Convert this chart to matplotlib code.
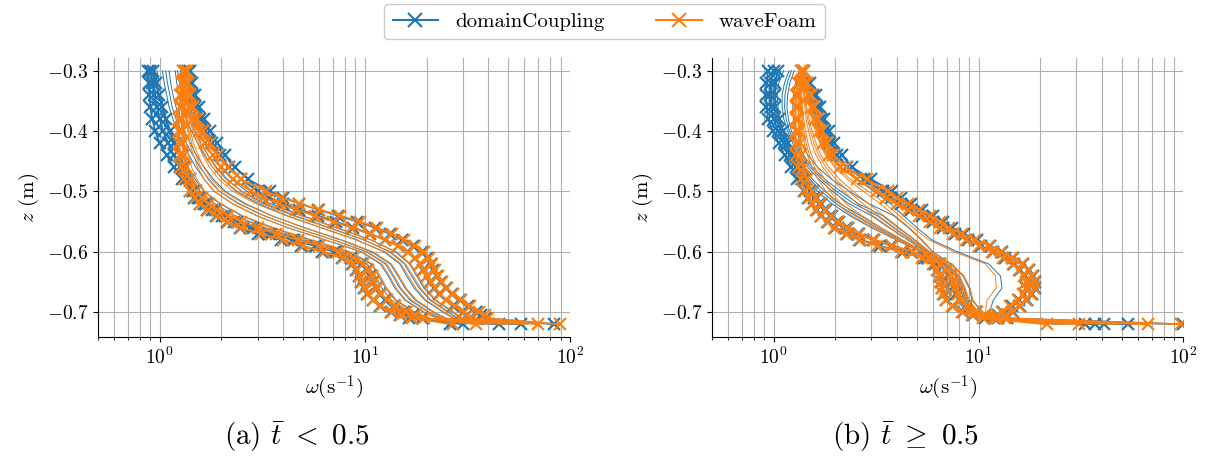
import matplotlib
matplotlib.use("Agg")
import matplotlib.pyplot as plt
from matplotlib.lines import Line2D

# depth levels (m): dense grid for the marked profiles, coarser one for the thin ones
ZM = [-0.30, -0.32, -0.34, -0.36, -0.38, -0.40, -0.42, -0.44, -0.46, -0.48,
      -0.50, -0.51, -0.52, -0.53, -0.54, -0.55, -0.56, -0.57, -0.58, -0.59,
      -0.60, -0.61, -0.62, -0.63, -0.64, -0.65, -0.66, -0.67, -0.68, -0.69,
      -0.70, -0.705, -0.71, -0.72]
ZT = [-0.30, -0.32, -0.34, -0.36, -0.38, -0.40, -0.42, -0.44, -0.46, -0.48,
      -0.50, -0.52, -0.54, -0.56, -0.58, -0.60, -0.62, -0.64, -0.66, -0.68,
      -0.70, -0.71, -0.72]

# ---- (a) t < 0.5 ----
a_dc_marked = [
    [0.88, 0.885, 0.89, 0.90, 0.92, 0.95, 1.00, 1.08, 1.17, 1.28,
     1.40, 1.47, 1.57, 1.70, 1.88, 2.12, 2.45, 3.0, 3.9, 4.9,
     6.2, 7.7, 8.7, 9.1, 9.4, 9.6, 9.9, 10.3, 10.9, 11.9,
     13.4, 14.8, 16.5, 45.0],
    [0.90, 0.92, 0.94, 0.97, 1.00, 1.04, 1.10, 1.17, 1.25, 1.34,
     1.45, 1.53, 1.64, 1.80, 2.02, 2.30, 2.75, 3.4, 4.4, 5.7,
     7.1, 8.6, 9.6, 10.2, 10.6, 10.9, 11.3, 11.8, 12.6, 13.8,
     15.5, 17.2, 19.0, 30.0],
    [0.93, 0.96, 0.99, 1.03, 1.07, 1.12, 1.18, 1.25, 1.32, 1.40,
     1.50, 1.58, 1.69, 1.85, 2.08, 2.38, 2.85, 3.5, 4.5, 5.8,
     7.2, 8.7, 9.7, 10.3, 10.7, 11.0, 11.4, 11.9, 12.7, 13.9,
     15.6, 17.3, 19.2, 26.0],
    [1.37, 1.39, 1.43, 1.49, 1.57, 1.67, 1.80, 1.96, 2.17, 2.50,
     3.0, 3.4, 4.0, 4.8, 5.9, 7.2, 8.8, 10.6, 12.6, 14.5,
     16.2, 17.5, 18.5, 19.3, 20.0, 20.8, 21.8, 23.0, 24.8, 27.0,
     30.0, 31.5, 33.0, 58.0],
    [1.40, 1.43, 1.48, 1.55, 1.64, 1.76, 1.90, 2.08, 2.32, 2.70,
     3.45, 4.0, 4.8, 5.9, 7.4, 9.2, 11.2, 13.2, 15.2, 17.2,
     19.0, 20.2, 21.0, 21.6, 22.4, 23.4, 24.8, 26.5, 29.0, 32.0,
     35.0, 37.0, 39.0, 84.0],
]
a_dc_thin = [
    [0.95, 0.97, 0.99, 1.02, 1.06, 1.10, 1.16, 1.24, 1.33, 1.44,
     1.57, 1.85, 2.32, 3.2, 4.9, 7.7, 10.2, 11.2, 12.1, 13.5, 16.6, 19.8, 35],
    [0.97, 0.99, 1.01, 1.04, 1.08, 1.13, 1.20, 1.28, 1.37, 1.49,
     1.64, 1.96, 2.50, 3.5, 5.4, 8.3, 10.7, 11.7, 12.6, 14.1, 17.3, 20.5, 38],
    [1.03, 1.05, 1.08, 1.11, 1.16, 1.22, 1.29, 1.39, 1.50, 1.65,
     1.84, 2.26, 2.96, 4.2, 6.4, 9.6, 11.9, 13.0, 14.0, 15.7, 19.3, 22.5, 43],
    [1.07, 1.09, 1.12, 1.15, 1.20, 1.27, 1.35, 1.45, 1.57, 1.74,
     1.96, 2.43, 3.22, 4.6, 7.0, 10.2, 12.6, 13.7, 14.8, 16.6, 20.4, 23.5, 46],
    [1.11, 1.13, 1.16, 1.20, 1.25, 1.32, 1.41, 1.51, 1.65, 1.83,
     2.09, 2.61, 3.51, 5.05, 7.6, 10.8, 13.3, 14.5, 15.7, 17.6, 21.6, 24.5, 48],
    [1.19, 1.21, 1.24, 1.29, 1.35, 1.43, 1.53, 1.65, 1.81, 2.03,
     2.36, 3.01, 4.17, 6.1, 9.1, 12.4, 14.8, 16.0, 17.4, 19.6, 24.1, 27.0, 52],
    [1.22, 1.25, 1.28, 1.33, 1.40, 1.48, 1.59, 1.72, 1.89, 2.14,
     2.50, 3.23, 4.55, 6.7, 9.9, 13.2, 15.6, 16.9, 18.4, 20.8, 25.5, 28.2, 54],
    [1.26, 1.29, 1.33, 1.38, 1.46, 1.54, 1.65, 1.80, 1.98, 2.25,
     2.66, 3.47, 4.96, 7.3, 10.7, 14.1, 16.5, 17.9, 19.4, 22.0, 26.9, 29.5, 55],
]
a_wf_marked = [
    [1.30, 1.28, 1.26, 1.25, 1.24, 1.24, 1.24, 1.25, 1.27, 1.31,
     1.40, 1.48, 1.58, 1.72, 1.90, 2.15, 2.5, 3.1, 4.0, 5.0,
     6.3, 7.8, 8.8, 9.2, 9.5, 9.7, 10.0, 10.4, 11.0, 12.0,
     13.5, 15.0, 17.0, 27.0],
    [1.33, 1.31, 1.29, 1.28, 1.28, 1.28, 1.29, 1.31, 1.34, 1.40,
     1.50, 1.60, 1.73, 1.90, 2.15, 2.5, 3.0, 3.7, 4.7, 6.0,
     7.4, 8.8, 9.8, 10.4, 10.8, 11.1, 11.5, 12.0, 12.8, 14.0,
     15.8, 17.5, 19.5, 35.0],
    [1.33, 1.34, 1.36, 1.40, 1.46, 1.55, 1.66, 1.81, 2.0, 2.28,
     2.8, 3.2, 3.8, 4.6, 5.7, 7.0, 8.6, 10.5, 12.5, 14.5,
     16.3, 17.6, 18.6, 19.4, 20.2, 21.0, 22.0, 23.3, 25.0, 27.5,
     30.5, 32.0, 33.0, 70.0],
    [1.36, 1.37, 1.40, 1.45, 1.52, 1.62, 1.75, 1.92, 2.15, 2.50,
     3.30, 3.9, 4.8, 6.0, 7.6, 9.5, 11.5, 13.5, 15.5, 17.5,
     19.5, 20.6, 21.3, 22.0, 22.8, 23.8, 25.2, 27.0, 29.5, 32.5,
     36.0, 38.5, 40.0, 89.0],
]
a_wf_thin = [
    [1.33, 1.31, 1.295, 1.29, 1.295, 1.30, 1.32, 1.345, 1.385, 1.46,
     1.58, 1.85, 2.33, 3.3, 5.1, 7.9, 10.3, 11.3, 12.1, 13.5, 16.7, 20, 37],
    [1.33, 1.31, 1.30, 1.30, 1.31, 1.32, 1.35, 1.38, 1.43, 1.52,
     1.66, 1.98, 2.53, 3.6, 5.5, 8.5, 10.9, 11.9, 12.8, 14.3, 17.6, 21, 40],
    [1.33, 1.32, 1.31, 1.32, 1.34, 1.37, 1.40, 1.46, 1.53, 1.65,
     1.85, 2.25, 2.96, 4.2, 6.4, 9.7, 12.1, 13.2, 14.2, 15.9, 19.6, 23, 45],
    [1.33, 1.32, 1.315, 1.33, 1.355, 1.39, 1.43, 1.50, 1.585, 1.72,
     1.95, 2.40, 3.2, 4.6, 7.0, 10.3, 12.8, 13.9, 15.0, 16.9, 20.7, 24, 47],
    [1.33, 1.32, 1.32, 1.34, 1.37, 1.41, 1.46, 1.54, 1.64, 1.79,
     2.05, 2.56, 3.49, 5.1, 7.7, 11.0, 13.5, 14.7, 15.9, 17.9, 21.9, 25, 50],
    [1.33, 1.33, 1.34, 1.36, 1.40, 1.45, 1.53, 1.62, 1.75, 1.94,
     2.28, 2.92, 4.12, 6.1, 9.0, 12.6, 15.0, 16.3, 17.7, 19.9, 24.5, 27.5, 56],
    [1.33, 1.33, 1.345, 1.37, 1.415, 1.475, 1.56, 1.665, 1.81, 2.02,
     2.40, 3.12, 4.47, 6.6, 9.8, 13.4, 15.8, 17.2, 18.7, 21.1, 25.9, 28.7, 59],
    [1.33, 1.33, 1.35, 1.38, 1.43, 1.50, 1.59, 1.71, 1.87, 2.10,
     2.53, 3.33, 4.85, 7.2, 10.6, 14.3, 16.7, 18.2, 19.7, 22.3, 27.3, 30, 62],
]

# ---- (b) t >= 0.5 ----
b_dc_marked = [
    [0.94, 0.92, 0.915, 0.92, 0.94, 0.99, 1.06, 1.13, 1.22, 1.30,
     1.40, 1.47, 1.54, 1.62, 1.71, 1.84, 2.0, 2.28, 2.65, 3.3,
     4.3, 5.4, 6.1, 6.35, 6.45, 6.55, 6.65, 6.75, 6.95, 7.5,
     8.4, 9.4, 10.7, 33.0],
    [1.0, 0.97, 0.96, 0.97, 1.0, 1.05, 1.12, 1.20, 1.29, 1.38,
     1.50, 1.58, 1.66, 1.76, 1.88, 2.04, 2.26, 2.58, 3.05, 3.75,
     4.7, 5.6, 6.4, 6.9, 7.2, 7.4, 7.6, 7.8, 8.1, 8.7,
     9.7, 10.7, 11.9, 41.0],
    [1.05, 1.02, 1.01, 1.02, 1.06, 1.11, 1.18, 1.26, 1.35, 1.44,
     1.55, 1.62, 1.70, 1.80, 1.92, 2.08, 2.30, 2.62, 3.1, 3.8,
     4.75, 5.65, 6.45, 6.95, 7.25, 7.45, 7.65, 7.85, 8.15, 8.75,
     9.75, 10.75, 11.95, 37.0],
    [1.39, 1.46, 1.55, 1.63, 1.70, 1.79, 1.89, 2.04, 2.28, 2.75,
     3.4, 3.75, 4.2, 4.7, 5.3, 6.0, 6.7, 7.7, 8.9, 10.3,
     11.8, 13.4, 14.9, 16.0, 16.8, 17.2, 17.2, 16.7, 15.7, 14.5,
     13.2, 12.5, 12.5, 53.5],
    [1.40, 1.50, 1.60, 1.69, 1.77, 1.87, 1.98, 2.15, 2.42, 3.0,
     3.8, 4.2, 4.7, 5.3, 6.0, 6.7, 7.4, 8.5, 9.8, 11.4,
     13.0, 14.8, 16.5, 17.6, 18.4, 18.8, 18.8, 18.3, 17.2, 16.0,
     14.7, 13.8, 13.7, 99.0],
]
b_dc_thin = [
    [1.05, 1.00, 0.99, 1.00, 1.03, 1.08, 1.15, 1.23, 1.33, 1.46,
     1.64, 1.92, 2.35, 3.0, 3.95, 5.25, 6.5, 7.2, 7.5, 7.9, 8.7, 10.3, 24],
    [1.08, 1.03, 1.015, 1.025, 1.05, 1.10, 1.17, 1.255, 1.365, 1.505,
     1.71, 2.01, 2.5, 3.15, 4.07, 5.32, 6.55, 7.3, 7.65, 8.05, 8.9, 10.55, 25],
    [1.12, 1.06, 1.04, 1.05, 1.07, 1.12, 1.19, 1.28, 1.40, 1.55,
     1.78, 2.10, 2.65, 3.3, 4.2, 5.4, 6.6, 7.4, 7.8, 8.2, 9.1, 10.8, 27],
    [1.19, 1.13, 1.10, 1.10, 1.12, 1.17, 1.24, 1.34, 1.47, 1.66,
     1.94, 2.32, 3.0, 3.65, 4.5, 5.55, 6.8, 7.7, 8.1, 8.5, 9.5, 11.3, 33],
    [1.22, 1.165, 1.135, 1.13, 1.15, 1.195, 1.27, 1.37, 1.51, 1.72,
     2.03, 2.45, 3.2, 3.85, 4.67, 5.65, 6.9, 7.85, 8.3, 8.7, 9.7, 11.55, 38],
    [1.26, 1.20, 1.17, 1.16, 1.18, 1.22, 1.30, 1.40, 1.55, 1.78,
     2.13, 2.58, 3.4, 4.05, 4.85, 5.75, 7.0, 8.0, 8.5, 8.9, 9.9, 11.8, 43],
    [1.33, 1.28, 1.25, 1.24, 1.25, 1.29, 1.36, 1.47, 1.64, 1.92,
     2.35, 2.90, 3.85, 4.55, 5.25, 5.95, 7.3, 8.4, 9.0, 9.3, 10.4, 12.3, 57],
    [1.38, 1.45, 1.52, 1.58, 1.64, 1.71, 1.80, 1.93, 2.14, 2.55,
     3.1, 3.7, 4.3, 5.0, 5.9, 7.9, 11.2, 12.8, 13.0, 11.8, 11.3, 12.3, 53],
]
b_wf_marked = [
    [1.36, 1.31, 1.29, 1.28, 1.28, 1.28, 1.28, 1.29, 1.32, 1.36,
     1.42, 1.48, 1.54, 1.61, 1.70, 1.82, 1.98, 2.25, 2.6, 3.2,
     4.2, 5.3, 6.0, 6.3, 6.4, 6.5, 6.6, 6.7, 6.9, 7.4,
     8.3, 9.3, 10.5, 21.5],
    [1.38, 1.34, 1.32, 1.32, 1.32, 1.33, 1.34, 1.36, 1.40, 1.45,
     1.53, 1.60, 1.68, 1.78, 1.90, 2.06, 2.28, 2.6, 3.1, 3.8,
     4.8, 5.7, 6.5, 7.0, 7.3, 7.5, 7.7, 7.9, 8.2, 8.8,
     9.8, 10.8, 12.0, 31.0],
    [1.38, 1.42, 1.48, 1.53, 1.59, 1.66, 1.75, 1.87, 2.10, 2.55,
     3.2, 3.55, 4.0, 4.5, 5.1, 5.8, 6.5, 7.5, 8.7, 10.1,
     11.6, 13.2, 14.7, 15.8, 16.6, 17.0, 17.0, 16.5, 15.5, 14.3,
     13.0, 12.3, 12.3, 67.0],
    [1.40, 1.45, 1.52, 1.58, 1.64, 1.72, 1.82, 1.95, 2.25, 2.85,
     3.6, 4.0, 4.5, 5.1, 5.8, 6.5, 7.2, 8.3, 9.6, 11.2,
     12.8, 14.6, 16.3, 17.4, 18.2, 18.6, 18.6, 18.1, 17.0, 15.8,
     14.5, 13.6, 13.5, 97.0],
]
b_wf_thin = [
    [1.36, 1.35, 1.34, 1.35, 1.36, 1.38, 1.41, 1.46, 1.54, 1.65,
     1.80, 2.02, 2.40, 3.05, 4.0, 5.3, 6.6, 7.3, 7.6, 8.0, 8.8, 10.5, 25],
    [1.365, 1.36, 1.355, 1.365, 1.38, 1.405, 1.44, 1.495, 1.585, 1.715,
     1.89, 2.13, 2.55, 3.2, 4.12, 5.37, 6.65, 7.4, 7.75, 8.15, 9.0, 10.75, 26],
    [1.37, 1.37, 1.37, 1.38, 1.40, 1.43, 1.47, 1.53, 1.63, 1.78,
     1.98, 2.25, 2.70, 3.35, 4.25, 5.45, 6.7, 7.5, 7.9, 8.3, 9.2, 11.0, 28],
    [1.37, 1.38, 1.40, 1.42, 1.44, 1.48, 1.53, 1.61, 1.74, 1.93,
     2.20, 2.55, 3.05, 3.70, 4.55, 5.6, 6.9, 7.8, 8.2, 8.6, 9.6, 11.5, 35],
    [1.375, 1.39, 1.41, 1.435, 1.465, 1.51, 1.57, 1.655, 1.80, 2.01,
     2.32, 2.72, 3.25, 3.9, 4.72, 5.7, 7.0, 7.95, 8.4, 8.8, 9.8, 11.75, 40],
    [1.38, 1.40, 1.42, 1.45, 1.49, 1.54, 1.61, 1.70, 1.86, 2.10,
     2.45, 2.90, 3.45, 4.10, 4.90, 5.8, 7.1, 8.1, 8.6, 9.0, 10.0, 12.0, 45],
    [1.38, 1.41, 1.45, 1.49, 1.54, 1.60, 1.68, 1.79, 1.98, 2.30,
     2.75, 3.30, 3.90, 4.60, 5.3, 6.0, 7.4, 8.5, 9.1, 9.4, 10.5, 12.5, 60],
    [1.38, 1.41, 1.46, 1.51, 1.56, 1.62, 1.70, 1.82, 2.02, 2.38,
     2.9, 3.5, 4.1, 4.8, 5.7, 7.6, 10.8, 12.1, 12.2, 11.0, 10.8, 11.8, 48],
]

BLUE = "#1f77b4"
ORANGE = "#ff7f0e"

plt.rcParams.update({
    "font.family": "serif",
    "font.serif": ["cmr10"],
    "mathtext.fontset": "cm",
    "axes.formatter.use_mathtext": True,
    "axes.unicode_minus": False,
    "font.size": 14,
})


def draw(ax, dc_thin, dc_marked, wf_thin, wf_marked):
    for thin, marked, c in ((dc_thin, dc_marked, BLUE), (wf_thin, wf_marked, ORANGE)):
        for prof in thin:
            ax.plot(prof, ZT, color=c, lw=0.7)
        for prof in marked:
            ax.plot(prof, ZM, color=c, lw=1.3, marker="x", ms=8, mew=1.6)
    ax.set_xscale("log")
    ax.set_xlim(0.5, 100)
    ax.grid(True, which="both", axis="x", color="#b0b0b0", lw=0.8)
    ax.grid(True, which="major", axis="y", color="#b0b0b0", lw=0.8)
    ax.set_axisbelow(True)
    ax.spines["top"].set_visible(False)
    ax.spines["right"].set_visible(False)
    ax.tick_params(labelsize=14)
    ax.set_xlabel(r"$\omega(\mathrm{s}^{-1})$", fontsize=15)
    ax.set_ylabel(r"$z$ (m)", fontsize=15)


fig = plt.figure(figsize=(12.07, 4.59), dpi=100)
ax1 = fig.add_axes([0.0812, 0.2658, 0.391, 0.6078])
ax2 = fig.add_axes([0.5899, 0.2658, 0.3906, 0.6078])
draw(ax1, a_dc_thin, a_dc_marked, a_wf_thin, a_wf_marked)
draw(ax2, b_dc_thin, b_dc_marked, b_wf_thin, b_wf_marked)

fig.text(0.246, 0.048, r"(a) $\bar{t}\ <\ 0.5$", ha="center", va="center", fontsize=21)
fig.text(0.750, 0.048, r"(b) $\bar{t}\ \geq\ 0.5$", ha="center", va="center", fontsize=21)

handles = [Line2D([], [], color=BLUE, marker="x", ms=10, mew=1.5, lw=1.5),
           Line2D([], [], color=ORANGE, marker="x", ms=10, mew=1.5, lw=1.5)]
fig.legend(handles, ["domainCoupling", "waveFoam"], loc="center",
           bbox_to_anchor=(0.501, 0.953), ncol=2, fontsize=15,
           handlelength=2.2, columnspacing=2.5, framealpha=1.0)

fig.savefig("out.png", dpi=100)
